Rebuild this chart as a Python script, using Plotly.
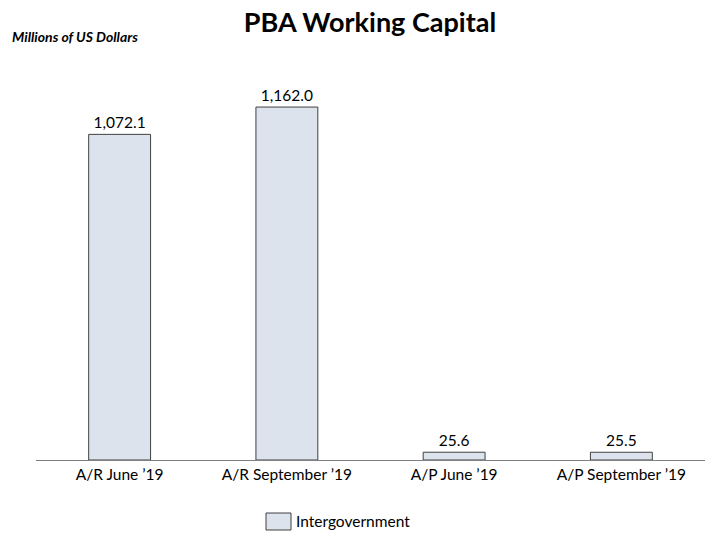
import plotly.graph_objects as go

categories = ["A/R June \u201919", "A/R September \u201919", "A/P June \u201919", "A/P September \u201919"]
values = [1072.1, 1162.0, 25.6, 25.5]
labels = ["1,072.1", "1,162.0", "25.6", "25.5"]
series_name = "Intergovernment"

FONT = "Lato, Carlito, Open Sans, sans-serif"
L, R, T, B = 36, 3, 70, 73
PW, PH = 708 - L - R, 533 - T - B

fig = go.Figure()
fig.add_trace(go.Bar(
    x=categories, y=values, name=series_name,
    text=labels, textposition="outside", cliponaxis=False,
    textfont=dict(family=FONT, size=15.5, color="#000000"),
    marker=dict(color="#DCE3ED", line=dict(color="#404040", width=1)),
    width=0.37, showlegend=False,
))

def px_x(p):
    return (p - L) / PW

def px_y(p):
    return (533 - B - p) / PH

fig.update_layout(
    width=708, height=533,
    margin=dict(l=L, r=R, t=T, b=B, autoexpand=False),
    paper_bgcolor="white", plot_bgcolor="white",
    title=dict(text="<b>PBA Working Capital</b>", x=370 / 708, xanchor="center",
               y=1 - 23 / 533, yanchor="middle",
               font=dict(family=FONT, size=27, color="#000000")),
    showlegend=False,
    xaxis=dict(showline=True, linecolor="#808080", linewidth=1, ticks="",
               tickfont=dict(family=FONT, size=15.5, color="#000000"),
               showgrid=False, automargin=False),
    yaxis=dict(range=[0, 1284], visible=False, showgrid=False, zeroline=False,
               automargin=False),
    shapes=[dict(type="rect", xref="paper", yref="paper",
                 x0=px_x(266), x1=px_x(291), y0=px_y(513), y1=px_y(530),
                 fillcolor="#DCE3ED", line=dict(color="#404040", width=1))],
    annotations=[
        dict(text="<b><i>Millions of US Dollars</i></b>", xref="paper", yref="paper",
             x=px_x(10), y=px_y(36), xanchor="left", yanchor="middle", showarrow=False,
             font=dict(family=FONT, size=14, color="#000000")),
        dict(text=series_name, xref="paper", yref="paper",
             x=px_x(294), y=px_y(521), xanchor="left", yanchor="middle", showarrow=False,
             font=dict(family=FONT, size=15.5, color="#000000")),
    ],
)

fig.write_html("out.html", config={"displayModeBar": False},
               post_script="document.body.style.margin='0';document.body.style.padding='0';")
